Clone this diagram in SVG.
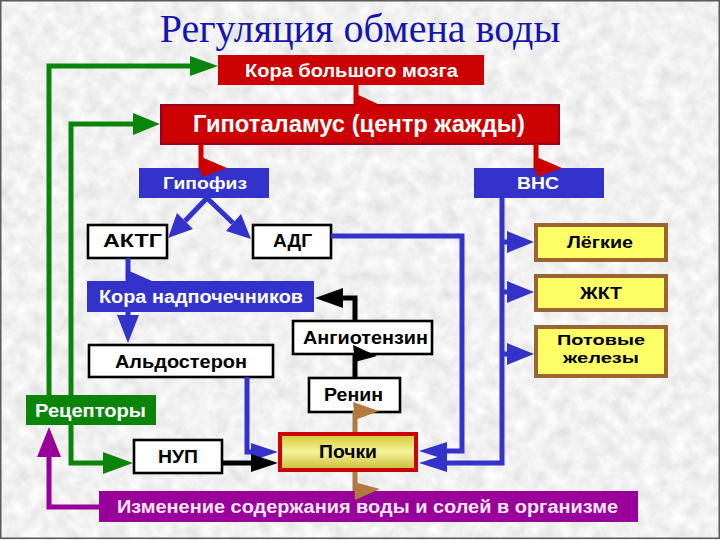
<svg xmlns="http://www.w3.org/2000/svg" width="720" height="540" viewBox="0 0 720 540">
<defs>
<filter id="tex" x="0" y="0" width="100%" height="100%" filterUnits="userSpaceOnUse">
<feTurbulence type="fractalNoise" baseFrequency="0.07" numOctaves="3" seed="7"/>
<feColorMatrix type="matrix" values="0.32 0 0 0 0.72  0.32 0 0 0 0.72  0.32 0 0 0 0.72  0 0 0 0 1"/>
</filter>
<linearGradient id="kid" x1="0" y1="0" x2="0" y2="1">
<stop offset="0" stop-color="#d2c834"/>
<stop offset="0.5" stop-color="#f6f29a"/>
<stop offset="1" stop-color="#c6bc30"/>
</linearGradient>
<style>
text{font-family:"Liberation Sans",Arial,sans-serif;font-weight:bold;text-anchor:middle}
.w{fill:#ffffff}
.k{fill:#000000}
.red{fill:#cc0000}
.blue{fill:#3333cc}
.wb{fill:#ffffff;stroke:#000000;stroke-width:2.6}
.yb{fill:#ffff66;stroke:#996633;stroke-width:4}
.ln{fill:none;stroke-width:5;stroke-linejoin:miter}
.g{stroke:#0a850a}
.gf{fill:#0a850a}
.b{stroke:#3333cc}
.bf{fill:#3333cc}
.r{stroke:#cc0000}
.rf{fill:#cc0000}
.bk{stroke:#000000}
.bkf{fill:#000000}
.br{stroke:#b07a40}
.brf{fill:#b07a40}
.p{stroke:#990099}
.pf{fill:#990099}
</style>
</defs>
<rect x="0" y="0" width="720" height="540" fill="#dcdcdc"/>
<rect x="0" y="0" width="720" height="540" filter="url(#tex)"/>
<rect x="0.75" y="0.75" width="718.5" height="537.5" fill="none" stroke="#5a5a5a" stroke-width="1.5"/>

<text x="360" y="42" style="font-family:'Liberation Serif','Times New Roman',serif;font-weight:normal;font-size:40px;fill:#1414b0">Регуляция обмена воды</text>

<g id="kora_mozga"><rect x="218" y="55" width="266" height="30" class="red"/><text x="351.5" y="77" class="w" font-size="18" textLength="213" lengthAdjust="spacingAndGlyphs">Кора большого мозга</text></g>
<g id="gipotalamus"><rect x="161" y="105" width="398" height="39" class="red" stroke="#99001f" stroke-width="2"/><text x="359" y="132" class="w" font-size="24" textLength="332" lengthAdjust="spacingAndGlyphs">Гипоталамус (центр жажды)</text></g>
<g id="gipofiz"><rect x="139" y="168" width="130" height="30" class="blue"/><text x="205" y="189" class="w" font-size="17" textLength="84" lengthAdjust="spacingAndGlyphs">Гипофиз</text></g>
<g id="vns"><rect x="474" y="168" width="130" height="30" class="blue"/><text x="538" y="189" class="w" font-size="17" textLength="42" lengthAdjust="spacingAndGlyphs">ВНС</text></g>
<g id="aktg"><rect x="88" y="225" width="79" height="33" class="wb"/><text x="132.5" y="247" class="k" font-size="18" textLength="59" lengthAdjust="spacingAndGlyphs">АКТГ</text></g>
<g id="adg"><rect x="253" y="225" width="78" height="33" class="wb"/><text x="292.5" y="247" class="k" font-size="18" textLength="39" lengthAdjust="spacingAndGlyphs">АДГ</text></g>
<g id="kora_nadpochechnikov"><rect x="87" y="281" width="227" height="31" class="blue"/><text x="201" y="303" class="w" font-size="18" textLength="204" lengthAdjust="spacingAndGlyphs">Кора надпочечников</text></g>
<g id="aldosteron"><rect x="89" y="345" width="184" height="32" class="wb"/><text x="181" y="368" class="k" font-size="18" textLength="132" lengthAdjust="spacingAndGlyphs">Альдостерон</text></g>
<g id="angiotenzin"><rect x="293" y="321" width="139" height="33" class="wb"/><text x="365.5" y="344" class="k" font-size="18" textLength="125" lengthAdjust="spacingAndGlyphs">Ангиотензин</text></g>
<g id="renin"><rect x="309" y="378" width="91" height="34" class="wb"/><text x="353.5" y="401" class="k" font-size="18" textLength="59" lengthAdjust="spacingAndGlyphs">Ренин</text></g>
<g id="pochki"><rect x="280" y="434" width="136" height="36" fill="url(#kid)" stroke="#cc0000" stroke-width="4"/><text x="348" y="458" class="k" font-size="18" textLength="58" lengthAdjust="spacingAndGlyphs">Почки</text></g>
<g id="nup"><rect x="134" y="440" width="88" height="33" class="wb"/><text x="178" y="463" class="k" font-size="18" textLength="40" lengthAdjust="spacingAndGlyphs">НУП</text></g>
<g id="receptory"><rect x="26" y="395" width="130" height="30" fill="#0a850a"/><text x="90.5" y="417" class="w" font-size="18" textLength="111" lengthAdjust="spacingAndGlyphs">Рецепторы</text></g>
<g id="izmenenie"><rect x="99" y="491" width="539" height="31" class="pf"/><text x="367.5" y="513" fill="#fbe6fb" font-size="18" textLength="501" lengthAdjust="spacingAndGlyphs">Изменение содержания воды и солей в организме</text></g>
<g id="legkie"><rect x="536" y="225" width="130" height="35" class="yb"/><text x="600" y="248" class="k" font-size="17" textLength="66" lengthAdjust="spacingAndGlyphs">Лёгкие</text></g>
<g id="zhkt"><rect x="536" y="276" width="130" height="34" class="yb"/><text x="601" y="299" class="k" font-size="17" textLength="42" lengthAdjust="spacingAndGlyphs">ЖКТ</text></g>
<g id="potovye"><rect x="536" y="327" width="130" height="49" class="yb"/><text x="601" y="345" class="k" font-size="15" textLength="88" lengthAdjust="spacingAndGlyphs">Потовые</text><text x="601" y="363" class="k" font-size="15" textLength="76" lengthAdjust="spacingAndGlyphs">железы</text></g>

<g id="connectors">
<!-- green -->
<polyline class="ln g" points="49,395 49,66 192,66"/>
<polygon class="gf" points="190,56 218,66 190,76"/>
<polyline class="ln g" points="71,395 71,124 136,124"/>
<polygon class="gf" points="133,113 160,124 133,135"/>
<polyline class="ln g" points="71,425 71,463 106,463"/>
<polygon class="gf" points="103,452 133,463 103,474"/>
<!-- purple -->
<polyline class="ln p" points="99,507 49,507 49,454"/>
<polygon class="pf" points="37,457 49,427 61,457"/>
<!-- red -->
<line class="ln r" x1="356" y1="85" x2="356" y2="105"/>
<polygon class="rf" points="354,93 378,104 356,110"/>
<line class="ln r" x1="201" y1="144" x2="201" y2="170"/>
<polygon class="rf" points="199,156 227,168 202,177"/>
<line class="ln r" x1="536" y1="144" x2="536" y2="170"/>
<polygon class="rf" points="534,156 562,168 537,177"/>
<!-- blue -->
<line class="ln b" x1="207" y1="198" x2="185" y2="221"/>
<polygon class="bf" points="177,213 168,238 193,229"/>
<line class="ln b" x1="207" y1="198" x2="233" y2="223"/>
<polygon class="bf" points="241,214 251,239 226,231"/>
<line class="ln b" x1="128" y1="258" x2="128" y2="282"/>
<polygon class="bf" points="127,270 152,281 128,285"/>
<line class="ln b" x1="128" y1="312" x2="128" y2="318"/>
<polygon class="bf" points="117,315 139,315 128,343"/>
<polyline class="ln b" points="247,377 247,452 253,452"/>
<polygon class="bf" points="251,443 278,452 251,461"/>
<polyline class="ln b" points="331,236 462,236 462,451 447,451"/>
<polygon class="bf" points="447,442 419,451 447,460"/>
<polyline class="ln b" points="502,198 502,463 447,463"/>
<polygon class="bf" points="447,454 419,463 447,472"/>
<line class="ln b" x1="502" y1="242" x2="509" y2="242"/>
<polygon class="bf" points="507,231 534,242 507,253"/>
<line class="ln b" x1="502" y1="292" x2="509" y2="292"/>
<polygon class="bf" points="507,281 534,292 507,303"/>
<line class="ln b" x1="502" y1="354" x2="509" y2="354"/>
<polygon class="bf" points="507,343 534,354 507,365"/>
<!-- black -->
<line class="ln bk" x1="222" y1="463" x2="253" y2="463"/>
<polygon class="bkf" points="251,454 278,463 251,472"/>
<line class="ln bk" x1="355" y1="378" x2="355" y2="354"/>
<polygon class="bkf" points="353,345 377,356 355,362"/>
<polyline class="ln bk" points="355,321 355,298 341,298"/>
<polygon class="bkf" points="343,288 315,298 343,308"/>
<!-- brown -->
<line class="ln br" x1="355" y1="432" x2="355" y2="410"/>
<polygon class="brf" points="353,402 379,411 355,420"/>
<line class="ln br" x1="355" y1="472" x2="355" y2="491"/>
<polygon class="brf" points="354,482 380,489 355,500"/>
</g>
</svg>
